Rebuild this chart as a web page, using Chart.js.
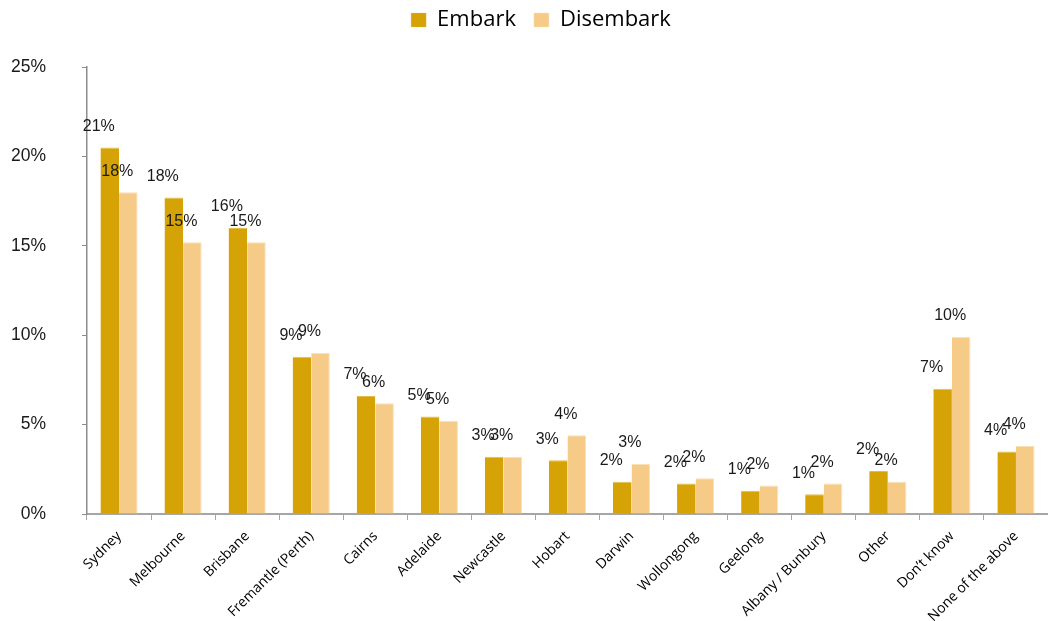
<!DOCTYPE html>
<html>
<head>
<meta charset="utf-8">
<script src="https://cdn.jsdelivr.net/npm/chart.js@4.4.1/dist/chart.umd.min.js"></script>
<style>
  html, body { margin: 0; padding: 0; background: #fff; overflow: hidden; }
  #wrap { width: 1048px; height: 621px; }
</style>
</head>
<body>
<div id="wrap"><canvas id="portChart"></canvas></div>
<script>
// ports, share of respondents (%)
const ports = ['Sydney', 'Melbourne', 'Brisbane', 'Fremantle (Perth)', 'Cairns', 'Adelaide',
    'Newcastle', 'Hobart', 'Darwin', 'Wollongong', 'Geelong', 'Albany / Bunbury', 'Other',
    'Don\u2019t know', 'None of the above'];
const embark = [20.5, 17.7, 16.0, 8.8, 6.6, 5.45, 3.2, 3.0, 1.8, 1.7, 1.3, 1.1, 2.4, 7.0, 3.5];
const disembark = [18.0, 15.2, 15.2, 9.0, 6.2, 5.2, 3.2, 4.4, 2.8, 2.0, 1.6, 1.7, 1.8, 9.9, 3.8];
const yTicks = [0, 5, 10, 15, 20, 25];

const AXIS = '#a6a6a6';

// percentage labels sitting above each bar
const barLabels = {
    id: 'barLabels',
    afterDatasetsDraw(chart) {
        const ctx = chart.ctx;
        ctx.save();
        ctx.font = '16px "Liberation Sans", Arial, sans-serif';
        ctx.fillStyle = '#1a1a1a';
        ctx.textAlign = 'center';
        ctx.textBaseline = 'middle';
        chart.data.datasets.forEach((ds, i) => {
            chart.getDatasetMeta(i).data.forEach((bar, j) => {
                ctx.fillText(Math.round(ds.data[j]) + '%', bar.x - 11, bar.y - 21);
            });
        });
        ctx.restore();
    }
};

// nudge the legend up into the top margin and a bit to the right
const legendShift = {
    id: 'legendShift',
    afterLayout(chart) {
        const lg = chart.legend;
        if (!lg) return;
        lg.top -= 26;
        lg.bottom -= 26;
        lg.left += 17;
        lg.right += 17;
    }
};

new Chart(document.getElementById('portChart').getContext('2d'), {
    type: 'bar',
    data: {
        labels: ports,
        datasets: [{
            label: 'Embark',
            data: embark,
            backgroundColor: '#d5a306',
            borderColor: '#e3bb4a',
            borderWidth: { top: 1, left: 0, right: 0, bottom: 0 }
        }, {
            label: 'Disembark',
            data: disembark,
            backgroundColor: '#f5cb87',
            borderColor: '#fae0b4',
            borderWidth: { top: 1, left: 0, right: 1, bottom: 0 }
        }]
    },
    options: {
        responsive: true,
        maintainAspectRatio: false,
        animation: false,
        layout: { padding: { top: 17, right: 0, left: 0, bottom: 0 } },
        datasets: {
            bar: { categoryPercentage: 0.58, barPercentage: 1.0 }
        },
        plugins: {
            legend: {
                position: 'top',
                labels: {
                    boxWidth: 15,
                    boxHeight: 14,
                    padding: 18,
                    color: '#000',
                    font: { family: '"Open Sans", sans-serif', size: 22 }
                }
            },
            tooltip: { enabled: false }
        },
        scales: {
            x: {
                grid: {
                    display: true,
                    drawOnChartArea: false,
                    drawTicks: true,
                    tickLength: 6,
                    color: AXIS,
                    offset: true
                },
                border: { color: AXIS, width: 2 },
                ticks: {
                    color: '#000',
                    font: { family: '"Open Sans", sans-serif', size: 14 },
                    minRotation: 45,
                    maxRotation: 45,
                    autoSkip: false,
                    padding: 8
                },
                afterFit: s => { s.height = 107; }
            },
            y: {
                min: 0,
                max: 25,
                afterBuildTicks: s => { s.ticks = yTicks.map(v => ({ value: v })); },
                grid: {
                    display: true,
                    drawOnChartArea: false,
                    drawTicks: true,
                    tickLength: 5,
                    color: '#8c8c8c'
                },
                border: { color: '#8c8c8c', width: 1.5 },
                ticks: {
                    color: '#1a1a1a',
                    padding: 36,
                    font: { family: '"Liberation Sans", Arial, sans-serif', size: 17.5 },
                    callback: v => v + '%'
                },
                afterFit: s => { s.width = 87; }
            }
        }
    },
    plugins: [barLabels, legendShift]
});
</script>
</body>
</html>
